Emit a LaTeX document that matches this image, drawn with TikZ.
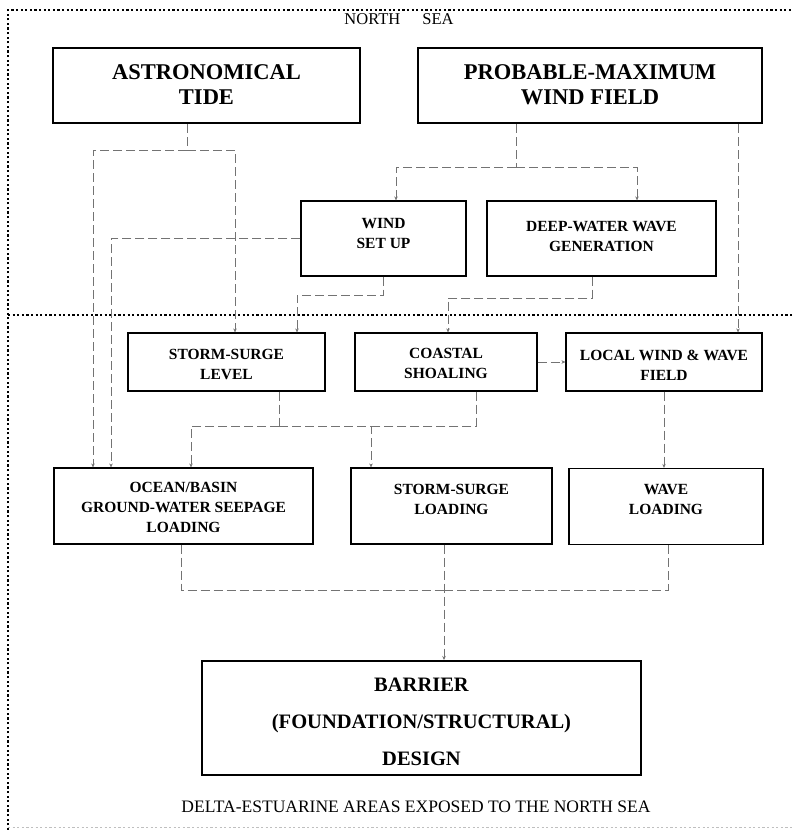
\documentclass[tikz,border=0pt]{standalone}
\usepackage{fontspec}
\setmainfont{Liberation Serif}
\usetikzlibrary{arrows.meta}
\begin{document}
\begin{tikzpicture}[x=1pt,y=-1pt,
  frame/.style={line width=1.5pt,dash pattern=on 2.2pt off 2.4pt,black},
  faintframe/.style={line width=1pt,dash pattern=on 2.2pt off 2.4pt,black!25},
  bigbox/.style={draw=black,line width=2pt,inner sep=0pt,rectangle},
  smallbox/.style={draw=black,line width=1.2pt,inner sep=0pt,rectangle},
  bigtxt/.style={align=center,font=\fontsize{22.5}{25}\selectfont\bfseries,inner sep=0pt},
  smalltxt/.style={align=center,font=\fontsize{15.5}{20}\selectfont\bfseries,inner sep=0pt},
  bartxt/.style={align=center,font=\fontsize{20.5}{37}\selectfont\bfseries,inner sep=0pt},
  conn/.style={draw=black!55,line width=0.7pt,dash pattern=on 9pt off 4pt},
  arr/.style={conn,-{Stealth[length=4pt,width=3.5pt]}}
]
\useasboundingbox (0,0) rectangle (792,830);

% outer frame and divider
\draw[frame] (8,830) -- (8,10) -- (792,10);
\draw[frame] (8,315) -- (792,315);
\draw[faintframe] (8,827) -- (792,827);
\node[font=\fontsize{16.5}{18}\selectfont,inner sep=0pt] (ns) at (399,19) {NORTH\hspace{22pt}SEA};

% boxes
\node[bigbox,minimum width=307,minimum height=75] (astro) at (206.5,85.5) {};
\node[bigtxt] (astrot) at (206.5,84.5) {ASTRONOMICAL\\TIDE};
\node[bigbox,minimum width=344,minimum height=75] (pmw) at (590,85.5) {};
\node[bigtxt] (pmwt) at (590,84.5) {PROBABLE-MAXIMUM\\WIND FIELD};

\node[smallbox,minimum width=165,minimum height=75] (wsu) at (383.5,238.5) {};
\node[smalltxt] (wsut) at (383.5,233) {WIND\\SET UP};
\node[smallbox,minimum width=229,minimum height=75] (dww) at (601.5,238.5) {};
\node[smalltxt] (dwwt) at (601.5,236) {DEEP-WATER WAVE\\GENERATION};

\node[smallbox,minimum width=197,minimum height=58] (ssl) at (226.5,362) {};
\node[smalltxt] (sslt) at (226.5,364) {STORM-SURGE\\LEVEL};
\node[smallbox,minimum width=182,minimum height=58] (cs) at (446,362) {};
\node[smalltxt] (cst) at (446,363) {COASTAL\\SHOALING};
\node[smallbox,minimum width=196,minimum height=58] (lww) at (664,362) {};
\node[smalltxt] (lwwt) at (664,365) {LOCAL WIND \& WAVE\\FIELD};

\node[smallbox,minimum width=259,minimum height=76] (ocean) at (183.5,506) {};
\node[smalltxt] (oceant) at (183.5,507) {OCEAN/BASIN\\GROUND-WATER SEEPAGE\\LOADING};
\node[smallbox,minimum width=201,minimum height=76] (ssload) at (451.5,506) {};
\node[smalltxt] (ssloadt) at (451.5,499) {STORM-SURGE\\LOADING};
\node[smallbox,minimum width=194,minimum height=76] (wl) at (666,506.5) {};
\node[smalltxt] (wlt) at (666,499) {WAVE\\LOADING};

\node[bigbox,minimum width=439,minimum height=114] (barrier) at (421.5,718) {};
\node[bartxt] (barriert) at (421.5,722) {BARRIER\\(FOUNDATION/STRUCTURAL)\\DESIGN};

\node[font=\fontsize{17.5}{20}\selectfont,inner sep=0pt] (cap) at (416,807) {DELTA-ESTUARINE AREAS EXPOSED TO THE NORTH SEA};

% helper coordinates
\coordinate (jA) at (187,150);
\coordinate (xa) at (93,0);
\coordinate (xb) at (235,0);
\coordinate (xc) at (111,0);
\coordinate (jW) at (297,295);
\coordinate (jP) at (516,167);
\coordinate (xd) at (396,0);
\coordinate (xe) at (637,0);
\coordinate (xf) at (738,0);
\coordinate (xg) at (592,0);
\coordinate (jD) at (448,298);
\coordinate (jS) at (279,426);
\coordinate (jC) at (476,426);
\coordinate (xh) at (191,0);
\coordinate (xi) at (371,0);
\coordinate (xk) at (181,0);
\coordinate (xl) at (668,0);
\coordinate (jB) at (444,590);

% connectors
\draw[conn] (astro.south -| jA) -- (jA);
\draw[arr] (jA) -| (ocean.north -| xa);
\draw[arr] (jA) -| (ssl.north -| xb);
\draw[arr] (wsu.west) -| (ocean.north -| xc);
\draw[arr] (wsu.south) |- (jW) -- (ssl.north -| jW);

\draw[conn] (pmw.south -| jP) -- (jP);
\draw[arr] (jP) -| (wsu.north -| xd);
\draw[arr] (jP) -| (dww.north -| xe);
\draw[arr] (pmw.south -| xf) -- (lww.north -| xf);

\draw[arr] (dww.south -| xg) |- (jD) -- (cs.north -| jD);
\draw[arr] (cs.east) -- (lww.west);

\draw[conn] (ssl.south -| jS) -- (jS);
\draw[arr] (jS) -| (ocean.north -| xh);
\draw[arr] (jS) -| (ssload.north -| xi);
\draw[conn] (cs.south -| jC) -- (jC) -- (jS -| xi);
\draw[arr] (lww.south) -- (wl.north -| lww.south);

\draw[conn] (ocean.south -| xk) |- (jB);
\draw[conn] (wl.south -| xl) |- (jB);
\draw[arr] (ssload.south -| jB) -- (barrier.north -| jB);
\end{tikzpicture}
\end{document}
